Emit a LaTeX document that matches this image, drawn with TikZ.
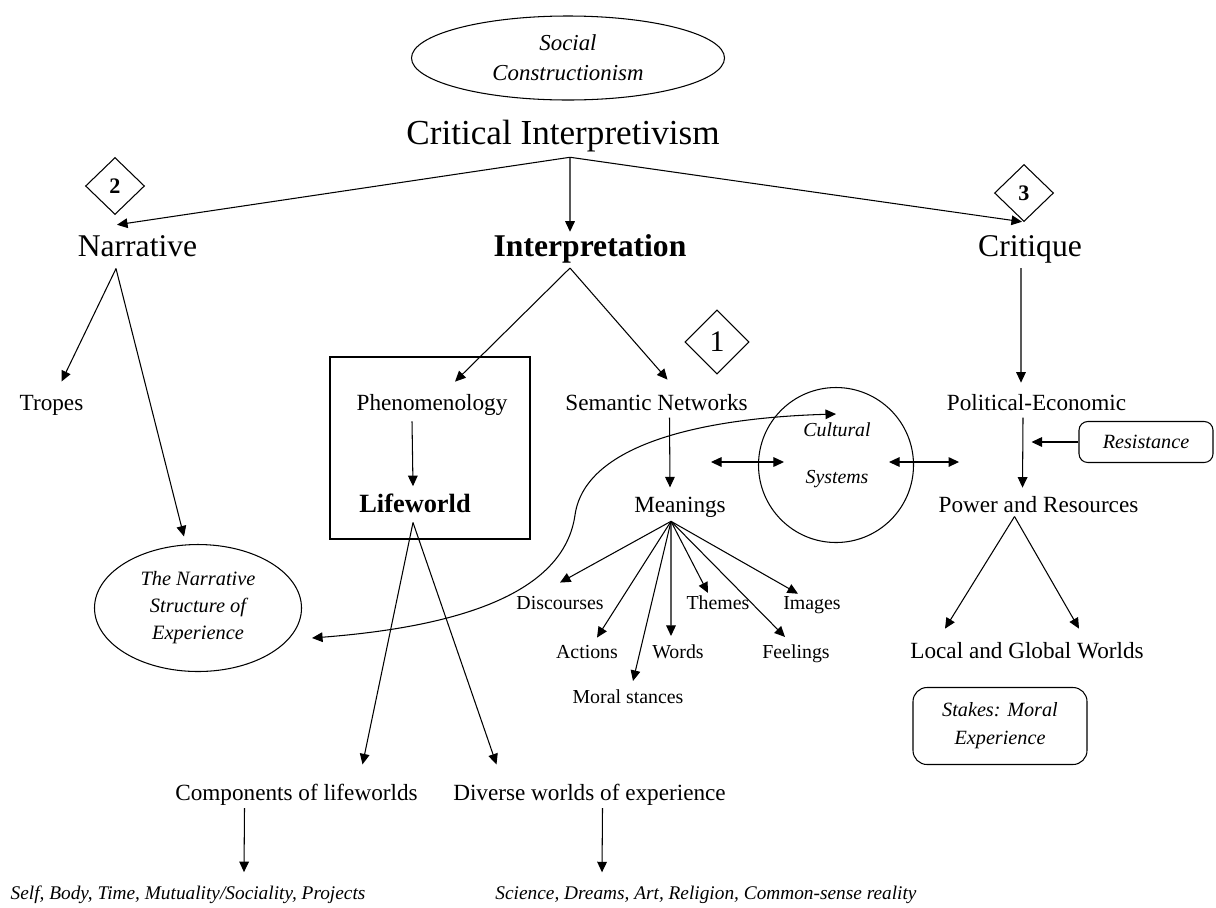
\documentclass[tikz,border=0pt]{standalone}
\usepackage{fontspec}
\setmainfont{Liberation Serif}
\usetikzlibrary{shapes.geometric,arrows.meta}

\begin{document}
\begin{tikzpicture}[x=0.2mm,y=-0.2mm,line width=0.6pt,
  >={Triangle[length=6pt,width=5.5pt]},
  lbl/.style={anchor=base,inner sep=1pt},
  big/.style={lbl,font=\fontsize{18}{21}\selectfont},
  mid/.style={lbl,font=\fontsize{13.2}{16}\selectfont},
  leaf/.style={lbl,font=\fontsize{11.3}{14}\selectfont},
  num/.style={draw,diamond,inner sep=0pt,minimum width=11.8mm,minimum height=11.4mm},
  note/.style={draw,align=center,font=\itshape\fontsize{11.5}{16}\selectfont}]
\useasboundingbox (0,0) rectangle (1216,907);

% top
\node[draw,ellipse,minimum width=62.6mm,minimum height=16.8mm,align=center,
  font=\itshape\fontsize{13}{17}\selectfont] (sc) at (568,58) {Social\\Constructionism};
\node[lbl,font=\fontsize{20}{24}\selectfont] (ci) at (563,144) {Critical Interpretivism};

\node[num,font=\bfseries\fontsize{12.6}{14}\selectfont] (d2) at (115,186) {2};
\node[num,font=\bfseries\fontsize{12.6}{14}\selectfont] (d3) at (1024,193) {3};
\node[num,minimum width=12.8mm,minimum height=12.8mm,font=\fontsize{17}{19}\selectfont] (d1) at (717,342) {1};

\node[big] (narr) at (137.5,256) {Narrative};
\node[big,font=\bfseries\fontsize{18}{21}\selectfont] (intp) at (590,256) {Interpretation};
\node[big] (crit) at (1030,256) {Critique};

\path[draw,->] ([xshift=1.4mm,yshift=-0.7mm]ci.south) -- ([xshift=-4.1mm,yshift=1.6mm]narr.north);
\path[draw,->] ([xshift=1.4mm,yshift=-0.7mm]ci.south) -- ([xshift=-4mm]intp.north);
\path[draw,->] ([xshift=1.4mm,yshift=-0.7mm]ci.south) -- ([xshift=-1.6mm,yshift=2.2mm]crit.north);

% narrative branch
\node[mid] (tropes) at (51.5,410) {Tropes};
\node[draw,ellipse,minimum width=41.4mm,minimum height=25.4mm,align=center,
  font=\itshape\fontsize{11.6}{15.4}\selectfont] (nse) at (198,608) {The Narrative\\Structure of\\Experience};
\path[draw,->] ([xshift=-4.3mm,yshift=-2mm]narr.south) -- ([xshift=2mm,yshift=2.2mm]tropes.north);
\path[draw,->] ([xshift=-4.3mm,yshift=-2mm]narr.south) -- ([xshift=-2.8mm,yshift=1.5mm]nse.north);

% interpretation branch
\node[mid] (phen) at (432,410) {Phenomenology};
\node[lbl,font=\bfseries\fontsize{15}{18}\selectfont] (life) at (415,512) {Lifeworld};
\draw (330,357) rectangle (530,539);
\node[mid] (sem) at (656.5,410) {Semantic Networks};
\node[mid] (mean) at (680,512) {Meanings};
\path[draw,->] ([xshift=-4mm,yshift=-0.6mm]intp.south) -- ([xshift=4.6mm,yshift=2mm]phen.north);
\path[draw,->] ([xshift=-4mm,yshift=-0.6mm]intp.south) -- ([xshift=2.2mm,yshift=2.4mm]sem.north);
\path[draw,->] ([xshift=-4mm,yshift=-0.8mm]phen.south) -- ([xshift=-0.4mm,yshift=1mm]life.north);
\path[draw,->] ([xshift=2.6mm,yshift=-1mm]sem.south) -- ([xshift=-2mm,yshift=1.4mm]mean.north);

\node[mid] (comp) at (296.5,800) {Components of lifeworlds};
\node[mid] (div) at (589.5,800) {Diverse worlds of experience};
\node[lbl,font=\itshape\fontsize{11}{13}\selectfont] (self) at (188,899) {Self, Body, Time, Mutuality/Sociality, Projects};
\node[lbl,font=\itshape\fontsize{11}{13}\selectfont] (sci) at (706,899) {Science, Dreams, Art, Religion, Common-sense reality};
\path[draw,->] ([xshift=-0.4mm,yshift=-1.6mm]life.south) -- ([xshift=13.2mm,yshift=3.4mm]comp.north);
\path[draw,->] ([xshift=-0.4mm,yshift=-1.6mm]life.south) -- ([xshift=-18.6mm,yshift=3.4mm]div.north);
\path[draw,->] ([xshift=-10.4mm,yshift=-0.2mm]comp.south) -- ([xshift=11.2mm,yshift=2.2mm]self.north);
\path[draw,->] ([xshift=2.6mm,yshift=-0.2mm]div.south) -- ([xshift=-20.8mm,yshift=2.2mm]sci.north);

% meanings
\node[leaf] (disc) at (560,609) {Discourses};
\node[leaf] (themes) at (718,609) {Themes};
\node[leaf] (images) at (812,609) {Images};
\node[leaf] (act) at (587,658) {Actions};
\node[leaf] (words) at (678,658) {Words};
\node[leaf] (feel) at (796,658) {Feelings};
\node[leaf] (moral) at (628,703) {Moral stances};
\foreach \n/\dx/\dy in {disc/0/2.2,act/2/1,moral/1/1.2,words/-1.4/1.2,
    themes/-2/0,feel/-2.2/1,images/-2.8/0}
  \path[draw,->] ([xshift=-1.8mm,yshift=-0.4mm]mean.south) -- ([xshift=\dx mm,yshift=\dy mm]\n.north);

% cultural systems
\node[draw,circle,minimum size=31mm] (cs) at (836,465) {};
\node[align=center,font=\itshape\fontsize{11.3}{26.6}\selectfont] (cstxt) at (837,455) {Cultural\\Systems};
\path[draw,<->] ([xshift=-9.4mm,yshift=0.6mm]cs.west) -- ([xshift=5.2mm,yshift=0.6mm]cs.west);
\path[draw,<->] ([xshift=-5mm,yshift=0.6mm]cs.east) -- ([xshift=9mm,yshift=0.6mm]cs.east);
\path[draw,<->] ([xshift=2mm,yshift=-6mm]nse.east) .. controls (480,625) and (565,585) .. (575,515)
  .. controls (585,445) and (700,418) .. ([yshift=10.2mm]cs.center);

% critique branch
\node[mid] (pol) at (1036.5,410) {Political-Economic};
\node[mid] (pow) at (1038.5,512) {Power and Resources};
\node[mid] (local) at (1027,658) {Local and Global Worlds};
\node[note,rounded corners=5pt,minimum width=26.8mm,minimum height=8.2mm] (res) at (1146,442) {Resistance};
\node[note,rounded corners=8pt,minimum width=34.8mm,minimum height=15.4mm] (stk) at (1000,726) {Stakes: Moral\\Experience};
\path[draw,->] ([xshift=-1.8mm,yshift=-0.6mm]crit.south) -- ([xshift=-3.1mm,yshift=1.8mm]pol.north);
\path[draw,->] ([xshift=-2.7mm,yshift=-1mm]pol.south) -- ([xshift=-3.2mm,yshift=1.2mm]pow.north);
\path[draw,->] (res.west) -- ([xshift=-9.4mm]res.west);
\path[draw,->] ([xshift=-4.8mm,yshift=-0.4mm]pow.south) -- ([xshift=-16.4mm,yshift=2.2mm]local.north);
\path[draw,->] ([xshift=-4.8mm,yshift=-0.4mm]pow.south) -- ([xshift=10.4mm,yshift=2.2mm]local.north);
\end{tikzpicture}
\end{document}
